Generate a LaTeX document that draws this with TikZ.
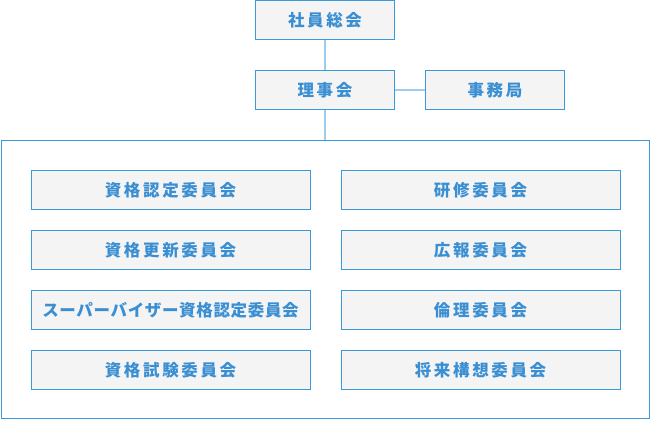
\documentclass[tikz,border=0pt]{standalone}
\usepackage{fontspec}
\setmainfont{Noto Sans CJK JP}
\newfontfamily\jpwide[LetterSpace=16]{Noto Sans CJK JP}
\newfontfamily\jpnarrow[LetterSpace=4]{Noto Sans CJK JP}
\usetikzlibrary{positioning}

\definecolor{boxblue}{HTML}{3A9AD9}
\definecolor{textblue}{HTML}{3A8FD3}
\definecolor{lineblue}{HTML}{9DCDEE}
\definecolor{boxfill}{HTML}{F4F4F4}

\begin{document}
\begin{tikzpicture}[
    x=1pt,y=1pt,
    font=\jpwide\fontsize{16.5}{19}\selectfont\bfseries,
    base/.style={rectangle,draw=boxblue,fill=boxfill,line width=1pt,text=textblue,minimum height=39pt,inner sep=0pt},
    topbox/.style={base,minimum width=139pt},
    committee/.style={base,minimum width=279pt},
    frame/.style={rectangle,draw=boxblue,line width=1pt,minimum width=648pt,minimum height=278pt},
    link/.style={draw=lineblue,line width=2pt}
  ]
  \useasboundingbox (0,0) rectangle (650,-420);

  \node(general) [topbox] at (325,-20) {社員総会};
  \node(board) [topbox,below=30pt of general] {理事会};
  \node(office) [topbox,right=30pt of board] {事務局};

  \node(cnt) [frame,below=30pt of board] {};

  % left column
  \node(c1) [committee,below right=30pt and 30pt of cnt.north west] {資格認定委員会};
  \node(c2) [committee,below=20pt of c1] {資格更新委員会};
  \node(c3) [committee,below=20pt of c2,font=\jpnarrow\fontsize{16.5}{19}\selectfont\bfseries] {スーパーバイザー資格認定委員会};
  \node(c4) [committee,below=20pt of c3] {資格試験委員会};

  % right column
  \node(c5) [committee,right=30pt of c1] {研修委員会};
  \node(c6) [committee,below=20pt of c5] {広報委員会};
  \node(c7) [committee,below=20pt of c6] {倫理委員会};
  \node(c8) [committee,below=20pt of c7] {将来構想委員会};

  \draw[link] (general) -- (board);
  \draw[link] (board) -- (office);
  \draw[link] (board.south) -- (board.south |- cnt.north);

\end{tikzpicture}
\end{document}
